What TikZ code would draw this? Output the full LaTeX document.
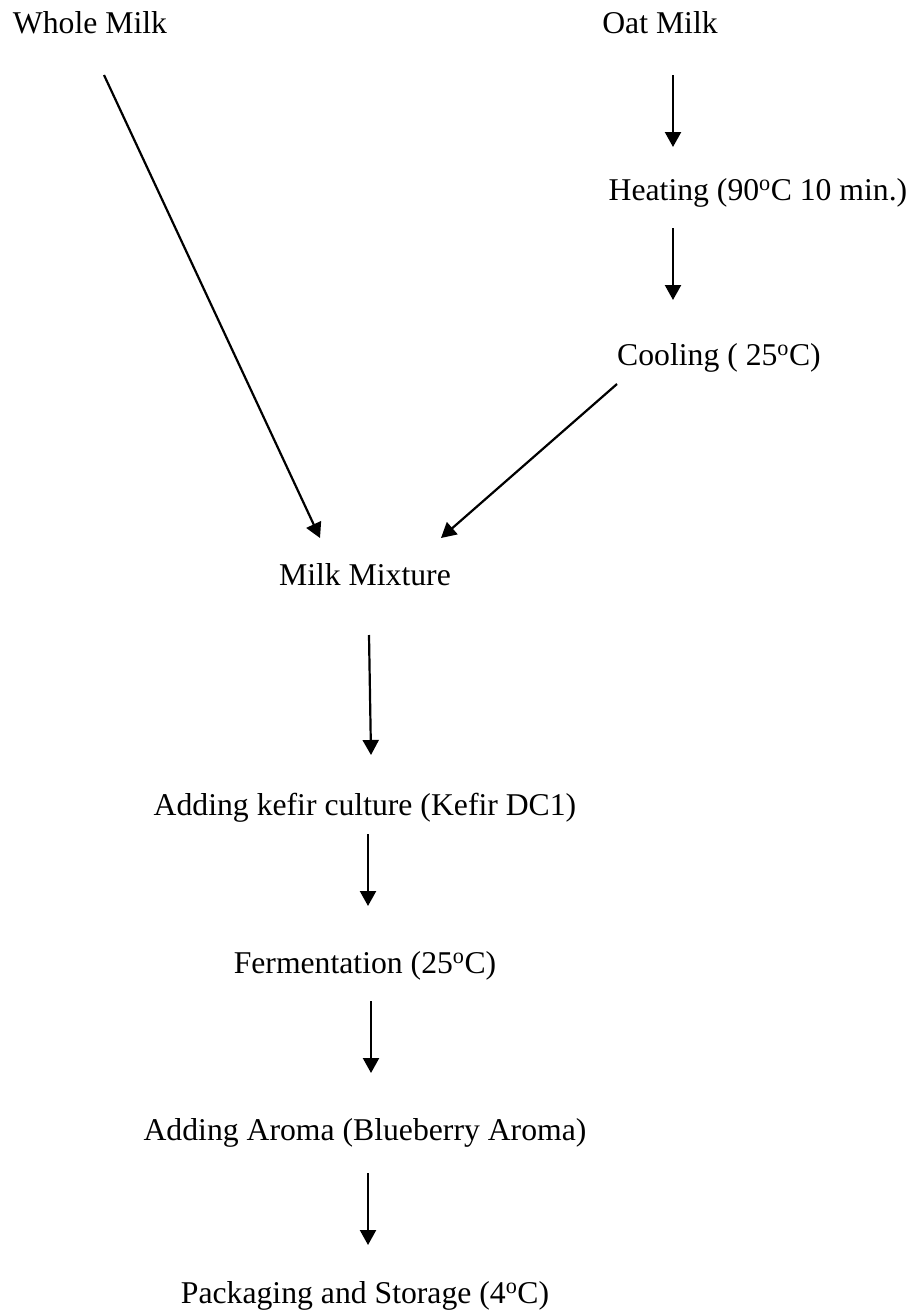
\documentclass[tikz,border=0pt]{standalone}
\usepackage{fontspec}
\setmainfont{Liberation Serif}
\usepackage{tikz}
\usetikzlibrary{arrows.meta}
\tikzset{
    every node/.style={align=center,font=\fontsize{31.7}{38}\selectfont,inner sep=0pt,anchor=base},
    step text/.style={},
    flow/.style={line width=2.2pt,-{Triangle[width=16pt,length=15pt]}},
}
\newcommand{\degC}{\textsuperscript{o}C}

\begin{document}
\begin{tikzpicture}[x=1pt,y=-1pt]
                \useasboundingbox (0,0) rectangle (919,1314);

                \node[step text] (whole) at (90, 34) {Whole Milk};
                \node[step text] (oat) at (660, 34) {Oat Milk};
                \node[step text] (heat) at (758, 200) {Heating (90\degC{} 10 min.)};
                \node[step text] (cool) at (719, 365) {Cooling ( 25\degC)};

                \node[step text] (mix) at (365, 585) {Milk Mixture};
                \node[step text] (kefir) at (365, 815) {Adding kefir culture (Kefir DC1)};
                \node[step text] (ferment) at (365, 973) {Fermentation (25\degC)};
                \node[step text] (aroma) at (365, 1140) {Adding Aroma (Blueberry Aroma)};
                \node[step text] (pack) at (365, 1303) {Packaging and Storage (4\degC)};

                \draw[flow] ([xshift=14pt,yshift=-41pt]whole.base) to ([xshift=-45pt,yshift=47pt]mix.base);
                \draw[flow] ([xshift=13pt,yshift=-41pt]oat.base) to ([xshift=-85pt,yshift=53pt]heat.base);
                \draw[flow] ([xshift=-85pt,yshift=-28pt]heat.base) to ([xshift=-46pt,yshift=65pt]cool.base);
                \draw[flow] ([xshift=-102pt,yshift=-19pt]cool.base) to ([xshift=76pt,yshift=47pt]mix.base);

                \draw[flow] ([xshift=4pt,yshift=-50pt]mix.base) to ([xshift=6pt,yshift=60pt]kefir.base);
                \draw[flow] ([xshift=3pt,yshift=-19pt]kefir.base) to ([xshift=3pt,yshift=67pt]ferment.base);
                \draw[flow] ([xshift=6pt,yshift=-28pt]ferment.base) to ([xshift=6pt,yshift=67pt]aroma.base);
                \draw[flow] ([xshift=3pt,yshift=-33pt]aroma.base) to ([xshift=3pt,yshift=58pt]pack.base);
            \end{tikzpicture}
\end{document}
